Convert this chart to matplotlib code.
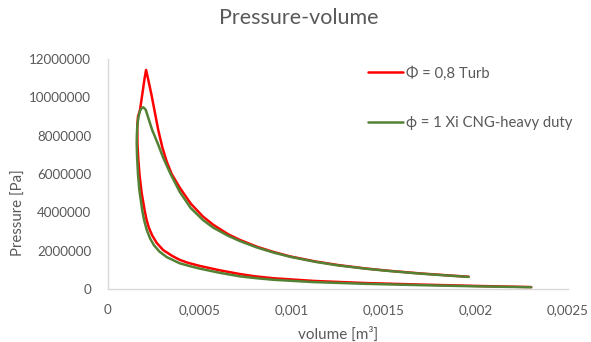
import matplotlib
matplotlib.use("Agg")
import matplotlib.pyplot as plt
from matplotlib.ticker import FixedLocator, FuncFormatter

plt.rcParams['font.family'] = ['Lato', 'DejaVu Sans']

# Cycle for phi = 0.8 (turbulent combustion): compression from BDC, combustion, expansion
red_v = [0.00230, 0.00200, 0.00170, 0.00140, 0.00112, 0.00090, 0.00080, 0.000717,
         0.00061, 0.00050, 0.00043, 0.00039, 0.00035, 0.00030, 0.000265, 0.000240,
         0.000222, 0.000210, 0.000200, 0.000192, 0.000183, 0.000172, 0.000165, 0.000160,
         0.000159, 0.000163, 0.000174, 0.000190, 0.000199, 0.000207,
         0.000217, 0.000237, 0.000255, 0.000273, 0.000295, 0.000319, 0.000346, 0.000391,
         0.00045, 0.000516, 0.000572, 0.000654, 0.000717, 0.000808, 0.00090, 0.00099,
         0.001125, 0.00125, 0.00140, 0.001515, 0.00170, 0.00185, 0.00196]
red_p_mpa = [0.10, 0.16, 0.23, 0.31, 0.42, 0.56, 0.66, 0.78,
             0.97, 1.20, 1.38, 1.52, 1.72, 2.03, 2.40, 2.80,
             3.20, 3.60, 4.05, 4.50, 5.00, 5.90, 6.70, 7.60,
             8.47, 9.00, 9.34, 10.40, 11.00, 11.43,
             11.00, 10.10, 9.20, 8.30, 7.40, 6.65, 6.00, 5.27,
             4.45, 3.78, 3.35, 2.85, 2.56, 2.21, 1.93, 1.70,
             1.44, 1.25, 1.07, 0.96, 0.81, 0.71, 0.64]

# Cycle for phi = 1 (Xi model, CNG heavy duty)
green_v = [0.00230, 0.00200, 0.00170, 0.00140, 0.00112, 0.00090, 0.00080, 0.000717,
           0.00061, 0.00050, 0.00045, 0.00039, 0.00032, 0.00028, 0.000250, 0.000228,
           0.000210, 0.000196, 0.000186, 0.000178, 0.000170, 0.000163, 0.000158, 0.000156,
           0.000157, 0.000160, 0.000166, 0.000174, 0.000184, 0.000192,
           0.000205, 0.000220, 0.000240, 0.000270, 0.000300, 0.000340, 0.000391,
           0.00045, 0.000516, 0.000572, 0.000654, 0.000717, 0.000808, 0.00090, 0.00099,
           0.001125, 0.00125, 0.00140, 0.001515, 0.00170, 0.00185, 0.00196]
green_p_mpa = [0.09, 0.14, 0.20, 0.27, 0.36, 0.48, 0.57, 0.66,
               0.84, 1.06, 1.18, 1.34, 1.66, 1.95, 2.28, 2.65,
               3.10, 3.60, 4.10, 4.64, 5.20, 6.00, 6.90, 7.60,
               8.10, 8.60, 9.00, 9.30, 9.45, 9.48,
               9.35, 8.90, 8.30, 7.60, 6.85, 6.00, 5.05,
               4.22, 3.60, 3.20, 2.77, 2.50, 2.17, 1.90, 1.68,
               1.42, 1.23, 1.06, 0.95, 0.80, 0.70, 0.63]

series_labels = ["\u03a6 = 0,8 Turb", "\u03d5 = 1 Xi CNG-heavy duty"]
x_ticks = [0, 0.0005, 0.001, 0.0015, 0.002, 0.0025]
x_tick_labels = ["0", "0,0005", "0,001", "0,0015", "0,002", "0,0025"]
y_ticks = [0, 2000000, 4000000, 6000000, 8000000, 10000000, 12000000]

TEXT = '#595959'
AXIS = '#d9d9d9'

fig = plt.figure(figsize=(5.91, 3.42), dpi=100)
ax = fig.add_axes([108 / 591, 53 / 342, 460 / 591, 230 / 342])

red_p = [p * 1e6 for p in red_p_mpa]
green_p = [p * 1e6 for p in green_p_mpa]
ax.plot(red_v, red_p, color='#ff0000', lw=1.8, label=series_labels[0],
        solid_joinstyle='round', solid_capstyle='round')
ax.plot(green_v, green_p, color='#548235', lw=1.8, label=series_labels[1],
        solid_joinstyle='round', solid_capstyle='round')

ax.set_xlim(0, 0.0025)
ax.set_ylim(0, 12000000)
ax.xaxis.set_major_locator(FixedLocator(x_ticks))
ax.set_xticklabels(x_tick_labels)
ax.yaxis.set_major_locator(FixedLocator(y_ticks))
ax.yaxis.set_major_formatter(FuncFormatter(lambda v, _: f"{int(round(v))}"))

for s in ['top', 'right']:
    ax.spines[s].set_visible(False)
for s in ['left', 'bottom']:
    ax.spines[s].set_color(AXIS)
    ax.spines[s].set_linewidth(1.0)

ax.tick_params(axis='both', length=0, labelsize=9.6, colors=TEXT)
ax.tick_params(axis='x', pad=11)
ax.tick_params(axis='y', pad=12)

ax.set_xlabel("volume [m\u00b3]", fontsize=11, color=TEXT)
ax.xaxis.set_label_coords(0.5, -0.165)
ax.set_ylabel("Pressure [Pa]", fontsize=10.8, color=TEXT)
ax.yaxis.set_label_coords(-0.178, 0.33)

fig.text(0.505, 0.947, "Pressure-volume", ha='center', va='center', fontsize=15.5, color=TEXT)

leg = ax.legend(loc='upper left', bbox_to_anchor=(368 / 591, 1 - 66 / 342),
                bbox_transform=fig.transFigure, frameon=False, fontsize=10.7,
                handlelength=2.35, handletextpad=0.2, labelspacing=2.4,
                borderpad=0, borderaxespad=0)
for t in leg.get_texts():
    t.set_color(TEXT)

fig.savefig("out.png", dpi=100)
